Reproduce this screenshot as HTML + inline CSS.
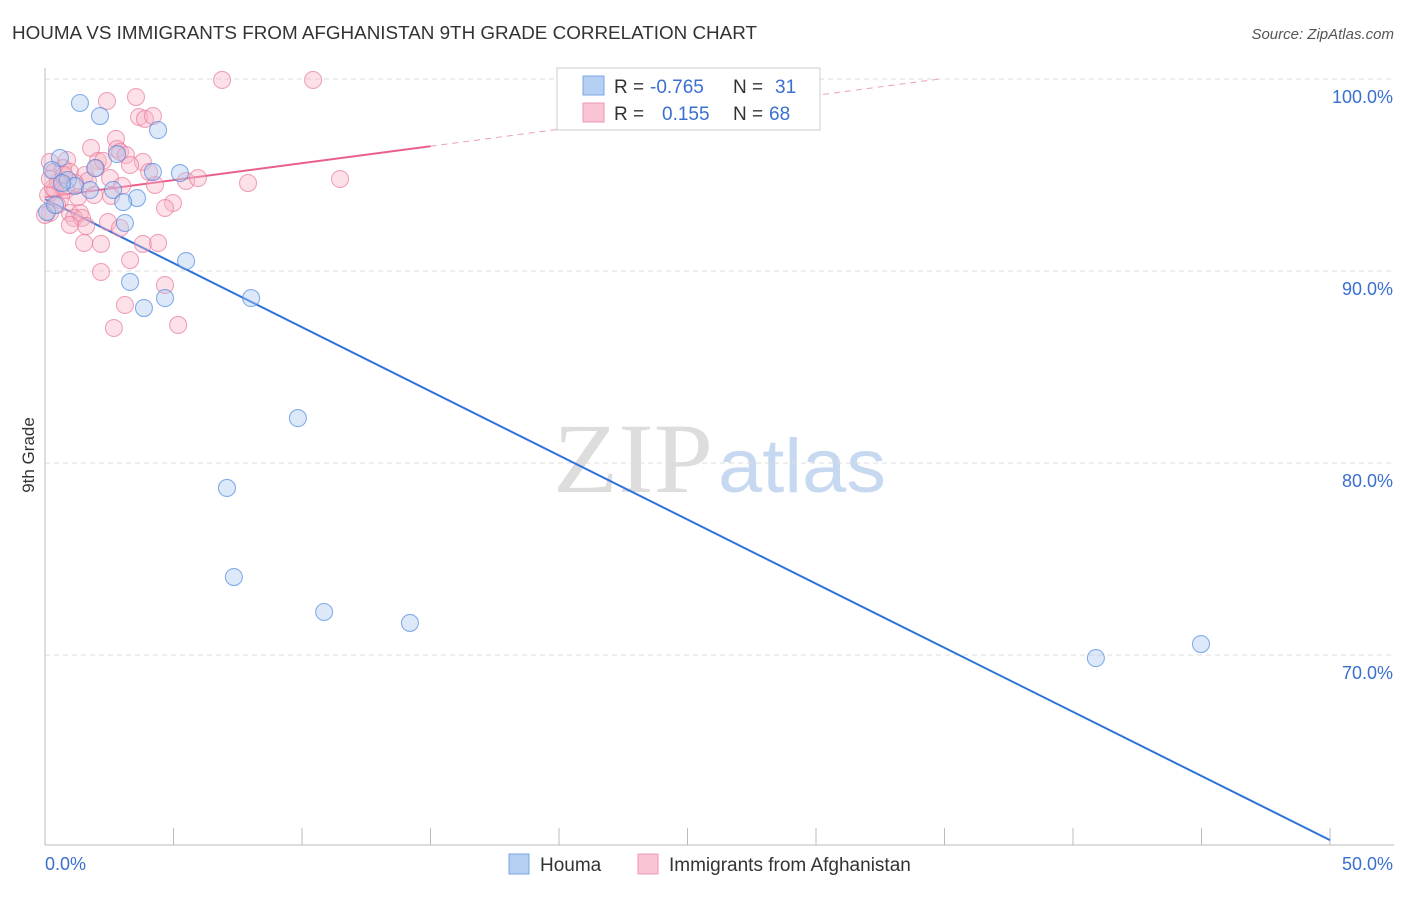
<!DOCTYPE html>
<html><head><meta charset="utf-8"><style>
body{margin:0;background:#fff;font-family:"Liberation Sans",sans-serif}
</style></head><body>
<svg id="c" width="1406" height="892" xmlns="http://www.w3.org/2000/svg">
<text x="12" y="39" font-size="18" fill="#333" textLength="745" lengthAdjust="spacingAndGlyphs">HOUMA VS IMMIGRANTS FROM AFGHANISTAN 9TH GRADE CORRELATION CHART</text>
<text x="1394" y="39" font-size="15" fill="#555" text-anchor="end" font-style="italic">Source: ZipAtlas.com</text>
<g><text x="553" y="492" font-size="100" font-family="Liberation Serif" fill="#ddd" textLength="160" lengthAdjust="spacingAndGlyphs">ZIP</text><text x="718" y="492" font-size="76" fill="#c7d9f0" textLength="168" lengthAdjust="spacingAndGlyphs">atlas</text></g>
<g id="grid"></g><g id="axes"></g><g id="lines"></g><g id="pts"></g>
<text transform="translate(34,455) rotate(-90)" font-size="17" fill="#333" text-anchor="middle">9th Grade</text>
<g>
<rect x="557" y="68" width="263" height="62" fill="#fff" stroke="#ccc"/>
<rect x="583" y="76" width="21" height="19" fill="#b6d0f3" stroke="#7aa6e6"/>
<text x="614" y="93" font-size="19" fill="#333">R =</text>
<text x="650" y="93" font-size="19" fill="#3a6fd0">-0.765</text>
<text x="733" y="93" font-size="19" fill="#333">N =</text>
<text x="775" y="93" font-size="19" fill="#3a6fd0">31</text>
<rect x="583" y="103" width="21" height="19" fill="#f9c4d3" stroke="#ee98b2"/>
<text x="614" y="120" font-size="19" fill="#333">R =</text>
<text x="662" y="120" font-size="19" fill="#3a6fd0">0.155</text>
<text x="733" y="120" font-size="19" fill="#333">N =</text>
<text x="769" y="120" font-size="19" fill="#3a6fd0">68</text>
</g>
<g>
<rect x="509" y="854" width="20" height="20" fill="#b6d0f3" stroke="#7aa6e6"/>
<text x="540" y="871" font-size="19" fill="#333">Houma</text>
<rect x="638" y="854" width="20" height="20" fill="#f9c4d3" stroke="#ee98b2"/>
<text x="669" y="871" font-size="19" fill="#333">Immigrants from Afghanistan</text>
</g>
</svg>
<script>
const xTicks=[0,5,10,15,20,25,30,35,40,45,50];
const yTicks=[100,90,80,70];
const yTickLabels=["100.0%","90.0%","80.0%","70.0%"];
const houmaX=[1.36,2.14,4.40,0.58,2.80,1.95,0.27,5.25,4.20,0.89,1.17,1.75,2.65,3.58,3.04,0.08,3.11,0.39,5.49,3.31,3.85,4.67,8.02,9.84,7.08,7.35,10.86,14.20,40.89,44.98,0.66];
const houmaY=[98.75,98.07,97.34,95.89,96.09,95.36,95.26,95.10,95.16,94.74,94.43,94.22,94.22,93.80,93.59,93.07,92.50,93.44,90.52,89.43,88.07,88.59,88.59,82.34,78.70,74.06,72.24,71.67,69.84,70.57,94.58];
const afgX=[6.89,10.43,2.41,3.54,3.66,3.89,4.20,2.76,2.80,2.92,3.15,1.79,2.06,2.26,3.81,0.86,0.19,0.35,0.70,0.97,1.56,2.53,3.00,4.28,5.49,5.95,7.90,11.48,4.98,4.67,1.91,0.58,0.12,0.39,0.66,0.19,0.97,1.36,1.13,1.44,1.60,0.97,2.45,2.92,1.52,2.18,3.81,4.40,3.31,2.18,3.11,4.67,2.68,5.18,0.31,0.51,1.67,1.17,0.00,0.19,0.47,0.82,1.28,1.98,2.57,3.31,4.05,0.74];
const afgY=[99.95,99.95,98.85,99.06,98.02,97.92,98.07,96.88,96.35,96.20,96.04,96.41,95.73,95.73,95.68,95.78,95.68,95.16,95.36,95.16,95.00,94.84,94.43,94.48,94.69,94.84,94.58,94.79,93.54,93.28,93.96,93.70,93.96,94.22,94.48,93.02,93.02,93.02,92.76,92.76,92.34,92.40,92.55,92.24,91.46,91.41,91.41,91.46,90.57,89.95,88.23,89.27,87.03,87.19,94.32,94.64,94.69,94.58,92.92,94.79,93.44,94.22,93.85,95.36,93.91,95.52,95.16,95.00];
const houmaFit=[93.75,60.36];
const afgFit=[93.85,96.5];
const NS="http://www.w3.org/2000/svg";
const X=v=>45+v*25.7, Y=v=>79+(100-v)*19.2;
function mk(p,t,a){const e=document.createElementNS(NS,t);for(const k in a)e.setAttribute(k,a[k]);document.getElementById(p).appendChild(e);return e;}
yTicks.forEach((t,i)=>{
 const g=mk('grid','line',{x1:45,x2:1394,y1:Y(t),y2:Y(t),stroke:'#ddd','stroke-dasharray':'5,4'});
 
 
 const l=mk('axes','text',{x:1393,y:Y(t)+24,'font-size':18,fill:'#3a6fd0','text-anchor':'end'});
 l.textContent=yTickLabels[i];
 
 
});
mk('axes','line',{x1:45,x2:45,y1:68,y2:845,stroke:'#bbb'});
mk('axes','line',{x1:45,x2:1394,y1:845,y2:845,stroke:'#bbb'});
xTicks.forEach(t=>{const e=mk('axes','line',{x1:X(t),x2:X(t),y1:828,y2:845,stroke:'#bbb'});
 
 });
let a=mk('axes','text',{x:45,y:870,'font-size':18,fill:'#3a6fd0'});a.textContent=xTicks[0].toFixed(1)+'%';


a=mk('axes','text',{x:1393,y:870,'font-size':18,fill:'#3a6fd0','text-anchor':'end'});a.textContent=xTicks[xTicks.length-1].toFixed(1)+'%';


function dots(xs,ys,fill,stroke,name){xs.forEach((x,i)=>{const c=mk('pts','circle',{cx:X(x),cy:Y(ys[i]),r:8.5,fill:fill,'fill-opacity':0.4,stroke:stroke,'stroke-opacity':0.65,'stroke-width':1.1});
 
 });}
dots(afgX,afgY,'#f7b3c6','#e8789a','afghanistan-point');
dots(houmaX,houmaY,'#a9c8f0','#4a86de','houma-point');
let ln=mk('lines','line',{x1:X(0),y1:Y(houmaFit[0]),x2:X(50),y2:Y(houmaFit[1]),stroke:'#2e74d8','stroke-width':2});


const s=(afgFit[1]-afgFit[0])/15, xe=(100-afgFit[0])/s;
ln=mk('lines','line',{x1:X(0),y1:Y(afgFit[0]),x2:X(15),y2:Y(afgFit[1]),stroke:'#e8608a','stroke-width':2});


ln=mk('lines','line',{x1:X(15),y1:Y(afgFit[1]),x2:X(xe),y2:Y(100),stroke:'#eaa0b6','stroke-width':1,'stroke-dasharray':'6,5'});


</script>
</body></html>
